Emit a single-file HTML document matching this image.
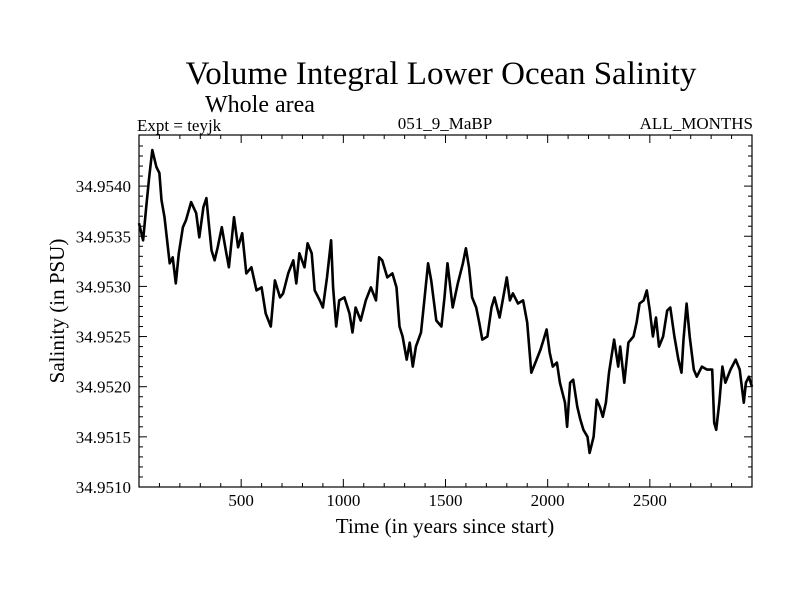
<!DOCTYPE html>
<html><head><meta charset="utf-8"><style>
html,body{margin:0;padding:0;background:#fff;}
svg{display:block;font-family:"Liberation Serif",serif;}
</style></head><body>
<svg id="chart" width="800" height="600" viewBox="0 0 800 600">
<text x="441" y="84" font-size="33" text-anchor="middle">Volume Integral Lower Ocean Salinity</text>
<text x="205" y="112" font-size="24">Whole area</text>
<text x="137" y="131" font-size="17">Expt = teyjk</text>
<text x="445" y="129" font-size="17" text-anchor="middle">051_9_MaBP</text>
<text x="753" y="129" font-size="17" text-anchor="end">ALL_MONTHS</text>
<text x="445" y="533" font-size="21" text-anchor="middle">Time (in years since start)</text>
<text transform="translate(64,311) rotate(-90)" font-size="21" text-anchor="middle">Salinity (in PSU)</text>
<g id="axes"></g>
<path id="series" fill="none" stroke="#000" stroke-width="2.6" stroke-linejoin="round"></path>
<rect x="139" y="135" width="613" height="352" fill="none" stroke="#000" stroke-width="1.2"></rect>
</svg>
<script>
const years = [0,20,35,50,65,85,100,110,125,150,165,180,195,215,230,255,280,295,315,330,340,355,370,385,405,425,440,465,485,505,525,550,575,600,620,645,665,690,705,730,755,770,
785,810,825,845,860,885,900,920,940,950,965,980,1005,1030,1045,1060,1085,1110,1135,1160,1175,1190,1215,1240,1260,1275,1290,1310,1325,1340,1355,1380,1395,1415,1430,1455,1480,
1495,1510,1535,1560,1585,1600,1615,1630,1650,1665,1680,1705,1725,1740,1765,1780,1800,1815,1830,1855,1880,1900,1920,1940,1965,1980,1995,2010,2025,2045,2060,2085,2095,2110,2125,2145,2160,2175,2195,2205,2225,2240,2255,
2270,2285,2300,2325,2345,2355,2375,2395,2420,2435,2450,2470,2485,2500,2515,2530,2545,2565,2585,2600,2620,2640,2655,2665,2680,2695,2715,2730,2755,2780,2805,2815,2825,2840,2855,2870,2895,2920,2940,2960,2970,2985,3000];
const salinity = [34.95363,34.95346,34.95379,34.95409,34.95436,34.95419,34.95413,34.95386,34.95369,34.95323,34.95329,34.95303,34.95333,34.95359,34.95366,34.95384,34.95373,34.95349,34.95379,34.95388,34.95366,34.95336,34.95326,34.95339,34.95359,34.95336,34.95319,34.95369,34.95339,34.95353,34.95313,34.95319,34.95296,34.95299,34.95273,34.95260,34.95306,34.95289,34.95293,34.95313,34.95326,34.95303,
34.95333,34.95319,34.95343,34.95333,34.95296,34.95286,34.95279,34.95309,34.95346,34.95299,34.95260,34.95286,34.95289,34.95273,34.95254,34.95279,34.95266,34.95286,34.95299,34.95286,34.95329,34.95326,34.95309,34.95313,34.95299,34.95260,34.95250,34.95227,34.95244,34.95220,34.95240,34.95254,34.95283,34.95323,34.95306,34.95266,34.95260,
34.95289,34.95323,34.95279,34.95303,34.95323,34.95338,34.95319,34.95289,34.95279,34.95264,34.95247,34.95250,34.95279,34.95289,34.95269,34.95286,34.95309,34.95286,34.95293,34.95283,34.95286,34.95264,34.95214,34.95224,34.95237,34.95247,34.95257,34.95234,34.95220,34.95224,34.95204,34.95184,34.95160,34.95204,34.95207,34.95180,34.95167,34.95157,34.95150,34.95134,34.95150,34.95187,34.95180,
34.95170,34.95184,34.95214,34.95247,34.95220,34.95240,34.95204,34.95244,34.95250,34.95264,34.95283,34.95286,34.95296,34.95276,34.95250,34.95269,34.95240,34.95250,34.95276,34.95279,34.95250,34.95227,34.95214,34.95247,34.95283,34.95250,34.95217,34.95210,34.95220,34.95217,34.95217,34.95164,34.95157,34.95184,34.95220,34.95204,34.95217,34.95227,34.95217,34.95184,34.95204,34.95210,34.95200];
const xTickLabels = [500,1000,1500,2000,2500];
const yTickLabels = ["34.9510","34.9515","34.9520","34.9525","34.9530","34.9535","34.9540"];

const L=139,R=752,T=135,B=487;
const xMin=0,xMax=3000,yMin=34.9510,yPerPx=0.001/100.3;
function xs(v){return L+(v-xMin)/(xMax-xMin)*(R-L);}
function ys(v){return B-(v-yMin)/yPerPx;}

const NS="http://www.w3.org/2000/svg";
const axes=document.getElementById('axes');
function line(x1,y1,x2,y2,name){
  const l=document.createElementNS(NS,'line');
  l.setAttribute('x1',x1);l.setAttribute('y1',y1);l.setAttribute('x2',x2);l.setAttribute('y2',y2);
  l.setAttribute('stroke','#000');l.setAttribute('stroke-width','1');
  
  
  axes.appendChild(l);
}
function text(x,y,s,anchor,name){
  const t=document.createElementNS(NS,'text');
  t.setAttribute('x',x);t.setAttribute('y',y);t.setAttribute('font-size','17');t.setAttribute('text-anchor',anchor);
  t.textContent=s;
  
  
  axes.appendChild(t);
}
for(let v=100;v<3000;v+=100){
  const x=xs(v), len=(v%500===0)?8:4;
  line(x,B,x,B-len,'x-tick');
  line(x,T,x,T+len,'x-tick-top');
}
xTickLabels.forEach(v=>text(xs(v),506,String(v),'middle','x-tick-label'));
for(let i=1;i<35;i++){
  const v=yMin+i*0.0001, y=ys(v), len=(i%5===0)?8:4;
  if(y<T)break;
  line(L,y,L+len,y,'y-tick');
  line(R,y,R-len,y,'y-tick-right');
}
yTickLabels.forEach(s=>text(131,ys(parseFloat(s))+6,s,'end','y-tick-label'));

let d='';
for(let i=0;i<years.length;i++){
  d+=(i?'L':'M')+xs(years[i]).toFixed(1)+' '+ys(salinity[i]).toFixed(1);
}
document.getElementById('series').setAttribute('d',d);
</script>
</body></html>
